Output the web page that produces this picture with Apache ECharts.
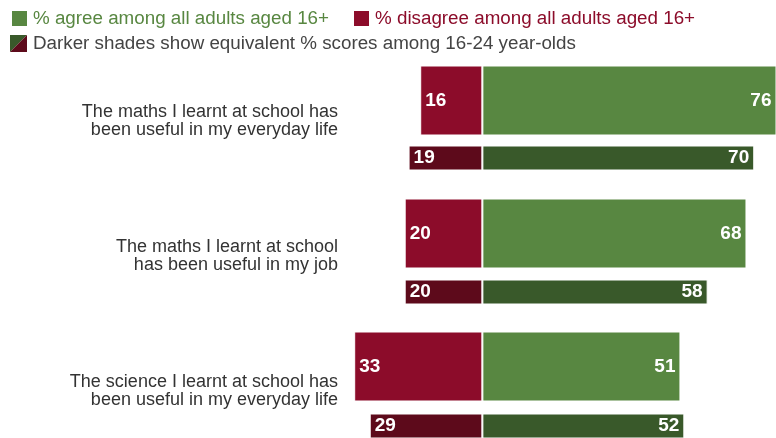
<!DOCTYPE html>
<html>
<head>
<meta charset="utf-8">
<script src="https://cdn.jsdelivr.net/npm/echarts@6/dist/echarts.min.js"></script>
<style>
  html, body { margin: 0; padding: 0; background: #fff; }
  #main { width: 776px; height: 438px; }
</style>
</head>
<body>
<div id="main"></div>
<script>
// statements, top to bottom
var questions = [
  'The maths I learnt at school has\nbeen useful in my everyday life',
  'The maths I learnt at school\nhas been useful in my job',
  'The science I learnt at school has\nbeen useful in my everyday life'
];
var agreeAll = [76, 68, 51];
var disagreeAll = [16, 20, 33];
var agreeYoung = [70, 58, 52];
var disagreeYoung = [19, 20, 29];

var GREEN = '#588741', RED = '#8c0c2a';
var DARK_GREEN = '#39592a', DARK_RED = '#5d0a1b';
var FONT = '"Liberation Sans", Arial, sans-serif';

var chart = echarts.init(document.getElementById('main'));

function neg(arr) {
  return arr.map(function (v) { return -v; });
}

function barLabel(pos) {
  return {
    show: true,
    position: pos,
    distance: 5,
    color: '#fff',
    fontWeight: 'bold',
    fontSize: 19,
    fontFamily: FONT,
    formatter: function (p) { return Math.abs(p.value); }
  };
}

function bar(name, data, color, idx, width, stack, pos) {
  return {
    name: name,
    type: 'bar',
    stack: stack,
    xAxisIndex: idx,
    yAxisIndex: idx,
    barWidth: width,
    data: data,
    itemStyle: { color: color, borderColor: '#fff', borderWidth: 1 },
    label: barLabel(pos),
    silent: true,
    animation: false
  };
}

var xBase = { type: 'value', min: -40, max: 75.6, show: false };
// boundaryGap false: categories sit on the grid edges, so the grids stay inside the canvas
var yBase = { type: 'category', data: questions, inverse: true, boundaryGap: false, show: false };

var option = {
  animation: false,
  textStyle: { fontFamily: FONT },
  legend: {
    left: 10,
    top: 9,
    padding: 0,
    itemWidth: 17,
    itemHeight: 17,
    itemGap: 23,
    icon: 'rect',
    selectedMode: false,
    textStyle: { fontSize: 18.8, fontFamily: FONT },
    data: [
      { name: '% agree among all adults aged 16+', textStyle: { color: GREEN } },
      { name: '% disagree among all adults aged 16+', textStyle: { color: RED } }
    ]
  },
  graphic: [
    { type: 'polygon', shape: { points: [[10, 35], [27, 35], [10, 52]] }, style: { fill: DARK_GREEN } },
    { type: 'polygon', shape: { points: [[27, 35], [27, 52], [10, 52]] }, style: { fill: DARK_RED } },
    {
      type: 'text', left: 33, top: 34,
      style: { text: 'Darker shades show equivalent % scores among 16-24 year-olds', fontSize: 18.8, fontFamily: FONT, fill: '#444' }
    }
  ],
  grid: [
    { left: 327, width: 449, top: 100.5, height: 266 },
    { left: 327, width: 449, top: 158, height: 268 },
    { left: 327, width: 449, top: 121, height: 270 }
  ],
  xAxis: [
    Object.assign({ gridIndex: 0 }, xBase),
    Object.assign({ gridIndex: 1 }, xBase),
    Object.assign({ gridIndex: 2 }, xBase)
  ],
  yAxis: [
    Object.assign({ gridIndex: 0 }, yBase),
    Object.assign({ gridIndex: 1 }, yBase),
    {
      gridIndex: 2,
      type: 'category',
      data: questions,
      inverse: true,
      boundaryGap: false,
      axisLine: { show: false },
      axisTick: { show: false },
      axisLabel: {
        margin: -11,
        fontSize: 18,
        lineHeight: 18,
        color: '#333',
        fontFamily: FONT,
        align: 'right'
      }
    }
  ],
  series: [
    bar('% agree among all adults aged 16+', agreeAll, GREEN, 0, 70, 'all', 'insideRight'),
    bar('% disagree among all adults aged 16+', neg(disagreeAll), RED, 0, 70, 'all', 'insideLeft'),
    bar('agree 16-24', agreeYoung, DARK_GREEN, 1, 25, 'young', 'insideRight'),
    bar('disagree 16-24', neg(disagreeYoung), DARK_RED, 1, 25, 'young', 'insideLeft')
  ]
};

chart.setOption(option);
</script>
</body>
</html>
